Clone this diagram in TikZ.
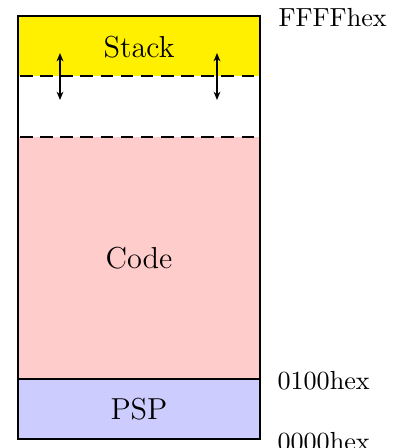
\documentclass[tikz,border=0pt]{standalone}
\usetikzlibrary{arrows.meta}
\definecolor{stackyellow}{RGB}{255,240,0}
\definecolor{codepink}{RGB}{255,204,204}
\definecolor{pspblue}{RGB}{204,204,255}
\tikzset{
  frame/.style={line width=0.76pt},
  sepline/.style={line width=0.76pt, dash pattern=on 4.8pt off 2.9pt, dash phase=-0.8pt},
  seglabel/.style={font=\fontsize{11.6}{14}\selectfont, inner sep=0pt},
  addrlabel/.style={font=\fontsize{10}{12}\selectfont, inner sep=0pt, anchor=base west},
  growth/.style={line width=0.55pt, {Stealth[length=3.2pt,width=2.6pt]}-{Stealth[length=3.2pt,width=2.6pt]}}
}
\begin{document}
\begin{tikzpicture}[x=0.3824pt,y=-0.3824pt]
\useasboundingbox (0,0) rectangle (394,448);
% memory segments
\fill[stackyellow] (18,16) rectangle (260,76);
\fill[white] (18,76) rectangle (260,136.5);
\fill[codepink] (18,136.5) rectangle (260,379);
\fill[pspblue] (18,379) rectangle (260,439);
\draw[sepline] (18,76) -- (260,76);
\draw[sepline] (18,136.5) -- (260,136.5);
\draw[frame] (18,379) -- (260,379);
\draw[frame] (18,16) rectangle (260,439);
% segment names
\node[seglabel, anchor=base] (stack) at (139,57) {Stack};
\node[seglabel, anchor=base] (code) at (139,268) {Code};
\node[seglabel, anchor=base] (psp) at (139,419) {PSP};
% addresses
\node[addrlabel] (top) at (278,26) {FFFFhex};
\node[addrlabel] (mid) at (277,389) {0100hex};
\node[addrlabel] (bot) at (277,450) {0000hex};
% stack growth arrows
\coordinate (la) at (60,53);
\coordinate (lb) at (60,100);
\coordinate (ra) at (217,53);
\coordinate (rb) at (217,100);
\draw[growth] (la) -- (lb);
\draw[growth] (ra) -- (rb);
\end{tikzpicture}
\end{document}
